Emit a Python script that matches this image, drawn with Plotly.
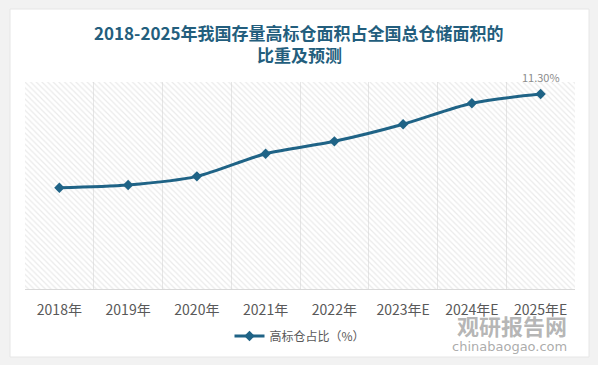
import plotly.graph_objects as go

categories = ["2018年", "2019年", "2020年", "2021年", "2022年", "2023年E", "2024年E", "2025年E"]
values = [5.87, 6.03, 6.53, 7.84, 8.56, 9.55, 10.77, 11.30]
series_name = "高标仓占比（%）"
title_line1 = "2018-2025年我国存量高标仓面积占全国总仓储面积的"
title_line2 = "比重及预测"

LINE = "#1f6386"
FONT = "Noto Sans CJK SC"
TITLE_COLOR = "#235e7d"

# plot-area pixel geometry
W, H = 598, 365
L, R, T, B = 25, 23, 82, 76
pw, ph = W - L - R, H - T - B

def px_x(x):
    return (x - L) / pw

def px_y(y):
    return (H - B - y) / ph

fig = go.Figure()

# hatched background for the plot area
fig.add_trace(go.Bar(
    x=[0.5], y=[1], width=[1], xaxis="x", yaxis="y",
    marker=dict(color="rgba(0,0,0,0)", line=dict(width=0),
                pattern=dict(shape="\\", fgcolor="#d6d6d6", bgcolor="rgba(0,0,0,0)",
                             size=4, solidity=0.3)),
    showlegend=False, hoverinfo="skip",
))

fig.add_trace(go.Scatter(
    x=categories, y=values, xaxis="x2", yaxis="y2",
    mode="lines+markers", name=series_name,
    line=dict(color=LINE, width=3, shape="spline", smoothing=0.8),
    marker=dict(symbol="diamond", size=8, color=LINE),
))

fig.add_annotation(
    x=categories[-1], y=values[-1], xref="x2", yref="y2",
    text=f"{values[-1]:.2f}%", showarrow=False, yshift=17,
    font=dict(family=FONT, size=11, color="#8c8c8c"),
)

# title (two lines)
fig.add_annotation(x=px_x(299), y=px_y(32), xref="paper", yref="paper",
                   xanchor="center", yanchor="middle", showarrow=False,
                   text=f"<b>{title_line1}</b>",
                   font=dict(family=FONT, size=17, color=TITLE_COLOR))
fig.add_annotation(x=px_x(299), y=px_y(54), xref="paper", yref="paper",
                   xanchor="center", yanchor="middle", showarrow=False,
                   text=f"<b>{title_line2}</b>",
                   font=dict(family=FONT, size=17, color=TITLE_COLOR))

# watermark
fig.add_annotation(x=px_x(512), y=px_y(325), xref="paper", yref="paper",
                   xanchor="center", yanchor="middle",
                   text="<b>观研报告网</b>", showarrow=False,
                   font=dict(family=FONT, size=22, color="rgba(150,150,150,0.7)"))
fig.add_annotation(x=px_x(509), y=px_y(346), xref="paper", yref="paper",
                   xanchor="center", yanchor="middle",
                   text="chinabaogao.com", showarrow=False,
                   font=dict(family="DejaVu Sans", size=13, color="rgba(150,150,150,0.8)"))

# white card
fig.add_shape(type="rect", xref="paper", yref="paper", layer="below",
              x0=px_x(10), x1=px_x(589), y0=px_y(357), y1=px_y(9),
              fillcolor="white", line=dict(color="#e6e6e6", width=1))

fig.update_layout(
    width=W, height=H,
    margin=dict(l=L, r=R, t=T, b=B),
    paper_bgcolor="#f2f2f2",
    plot_bgcolor="white",
    xaxis=dict(range=[0, 1], visible=False, fixedrange=True),
    yaxis=dict(range=[0, 1], visible=False, fixedrange=True),
    xaxis2=dict(overlaying="x", side="bottom", anchor="y2", type="category",
                categoryorder="array", categoryarray=categories,
                range=[-0.5, len(categories) - 0.5],
                tickson="boundaries", showgrid=True, gridcolor="#e6e6e6", gridwidth=1,
                showline=True, linecolor="#d9d9d9", linewidth=1, ticks="",
                tickfont=dict(family=FONT, size=14, color="#595959"),
                ticklabelstandoff=8),
    yaxis2=dict(overlaying="y", range=[0, 12], visible=False),
    showlegend=True,
    legend=dict(orientation="h", x=0.5, xanchor="center", y=px_y(336), yanchor="middle",
                font=dict(family=FONT, size=12, color="#595959"),
                bgcolor="rgba(0,0,0,0)"),
    font=dict(family=FONT),
    bargap=0,
)

fig.write_html("out.html", config={"displayModeBar": False},
               post_script="document.body.style.margin='0';")
